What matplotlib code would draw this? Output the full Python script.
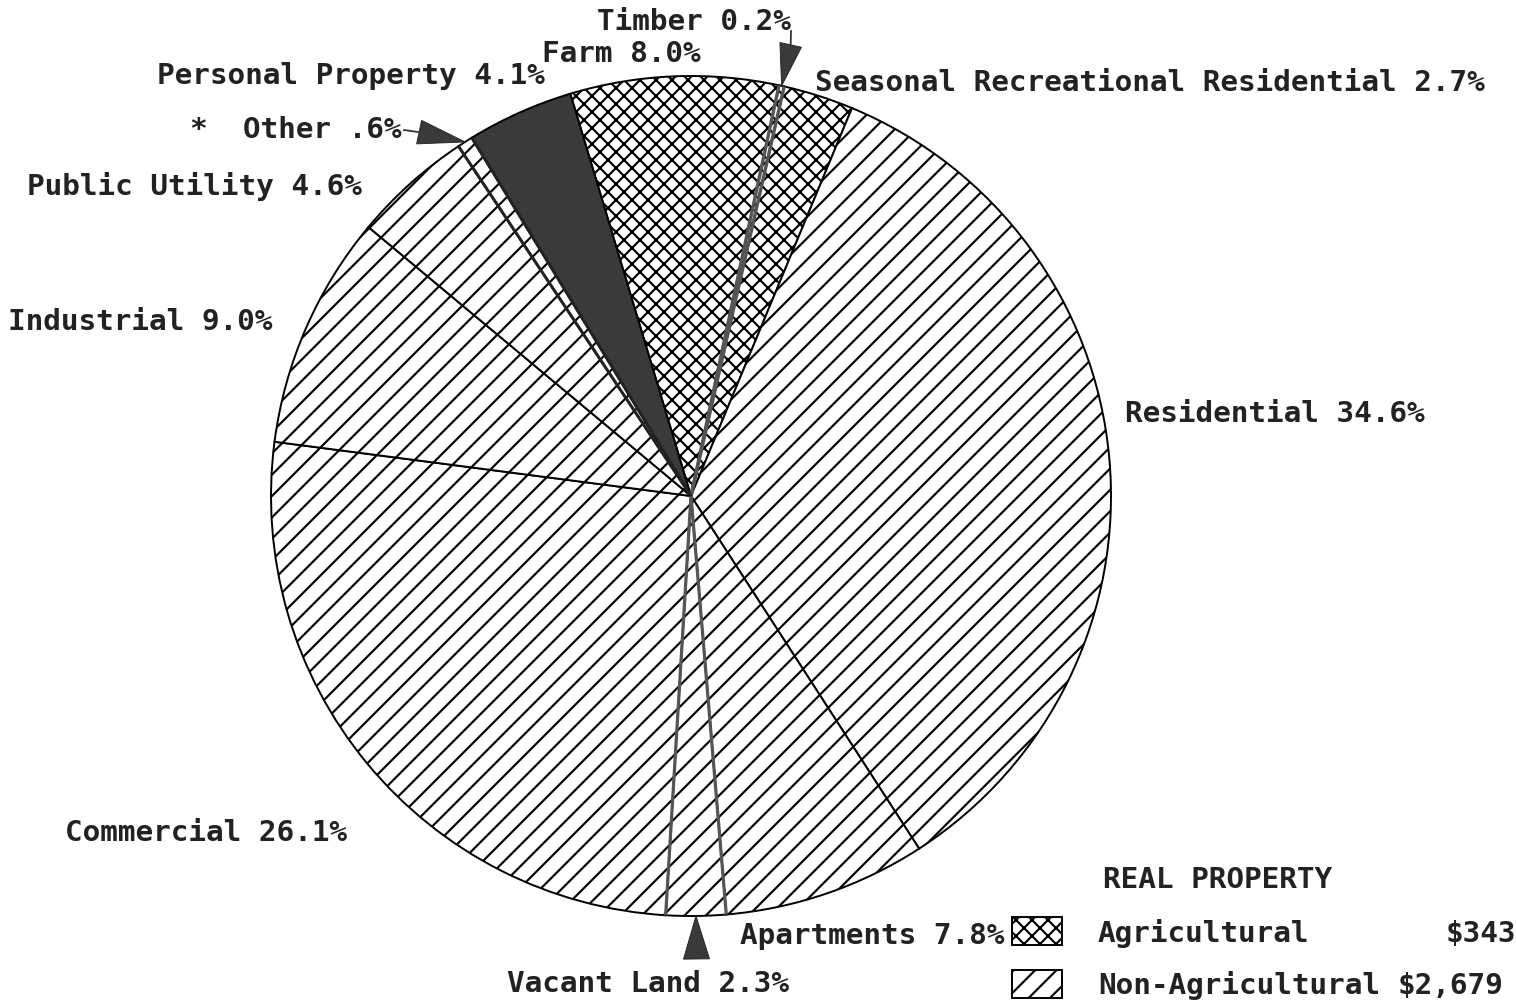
import numpy as np
import matplotlib
matplotlib.use("Agg")
import matplotlib.pyplot as plt
import matplotlib.hatch as mhatch
from matplotlib.patches import Polygon, Rectangle

# ---------------- data ----------------
categories = ["Farm", "Timber", "Seasonal Recreational Residential", "Residential",
              "Apartments", "Vacant Land", "Commercial", "Industrial",
              "Public Utility", "*  Other", "Personal Property"]
shares = [8.0, 0.2, 2.7, 34.6, 7.8, 2.3, 26.1, 9.0, 4.6, 0.6, 4.1]
pct_text = ["8.0%", "0.2%", "2.7%", "34.6%", "7.8%", "2.3%", "26.1%", "9.0%",
            "4.6%", ".6%", "4.1%"]
group = ["ag", "ag", "ag", "non", "non", "non", "non", "non", "non", "non", "pers"]
legend_title = "REAL PROPERTY"
legend_labels = ["Agricultural", "Non-Agricultural"]
legend_values = ["$343", "$2,679"]

# ---------------- hatch spacing (plotter look) ----------------
def _ne_init(self, hatch, density):
    self.num_lines = int(6 * hatch.count('/') + 8 * (hatch.count('x') + hatch.count('X')))
    self.num_vertices = (self.num_lines + 1) * 2 if self.num_lines else 0

def _se_init(self, hatch, density):
    self.num_lines = int(6 * hatch.count('\\') + 8 * (hatch.count('x') + hatch.count('X')))
    self.num_vertices = (self.num_lines + 1) * 2 if self.num_lines else 0

mhatch.NorthEastHatch.__init__ = _ne_init
mhatch.SouthEastHatch.__init__ = _se_init

DPI = 64
W, H = 1516, 1001
plt.rcParams["hatch.linewidth"] = 2.4
FONT = dict(family="DejaVu Sans Mono", fontweight="bold", fontsize=33, color="#222222")

fig = plt.figure(figsize=(W / DPI, H / DPI), dpi=DPI)
ax = fig.add_axes([0, 0, 1, 1])

def Y(py):
    return H - py

CX, CY, R = 691, Y(496), 420
START = 106.7

style = {
    "ag": dict(facecolor="white", hatch="x"),
    "non": dict(facecolor="white", hatch="/"),
    "pers": dict(facecolor="#3a3a3a", hatch=None),
}

wedges, _ = ax.pie(shares, startangle=START, counterclock=False, radius=R,
                   center=(CX, CY),
                   wedgeprops=dict(edgecolor="black", linewidth=2.2))
for w, g in zip(wedges, group):
    w.set_facecolor(style[g]["facecolor"])
    if style[g]["hatch"]:
        w.set_hatch(style[g]["hatch"])

# heavier radial edges on the narrow slices
edge_style = {"Timber": ("#555555", 3.8), "Vacant Land": ("#555555", 3.6),
              "*  Other": ("#222222", 3.4)}
for name, (col, lw) in edge_style.items():
    w = wedges[categories.index(name)]
    for th in (w.theta1, w.theta2):
        t = np.deg2rad(th)
        ax.plot([CX, CX + R * np.cos(t)], [CY, CY + R * np.sin(t)],
                color=col, lw=lw, solid_capstyle="butt", zorder=4)

# ---------------- labels ----------------
label_pos = {  # left x, baseline y (pixels)
    "Farm": (542, 62),
    "Timber": (597, 30),
    "Seasonal Recreational Residential": (815, 91),
    "Residential": (1125, 422),
    "Apartments": (740, 944),
    "Vacant Land": (507, 992),
    "Commercial": (65, 841),
    "Industrial": (8, 330),
    "Public Utility": (27, 195),
    "*  Other": (190, 138),
    "Personal Property": (157, 84),
}
for cat, pct in zip(categories, pct_text):
    x, y = label_pos[cat]
    ax.text(x, Y(y), f"{cat} {pct}", ha="left", va="baseline", **FONT)

# ---------------- pointer arrows ----------------
def mid_angle(name):
    w = wedges[categories.index(name)]
    return np.deg2rad((w.theta1 + w.theta2) / 2)

arrows = {  # name: (direction of base from tip in deg or None=radial, length, half width, stem end px)
    "Timber": (None, 42, 11, (791, 31)),
    "Vacant Land": (None, 43, 13, None),
    "*  Other": (168.0, 47, 12, (404, 130)),
}
for name, (dirdeg, L, hw, stem) in arrows.items():
    a = mid_angle(name)
    tip = np.array([CX + R * np.cos(a), CY + R * np.sin(a)])
    d = a if dirdeg is None else np.deg2rad(dirdeg)
    u = np.array([np.cos(d), np.sin(d)])
    n = np.array([-u[1], u[0]])
    base = tip + L * u
    ax.add_patch(Polygon([tip, base + hw * n, base - hw * n], closed=True,
                         facecolor="#3a3a3a", edgecolor="#222222", linewidth=1, zorder=5))
    if stem is not None:
        ax.plot([base[0], stem[0]], [base[1], Y(stem[1])], color="#333333", lw=2, zorder=5)

# ---------------- legend ----------------
ax.text(1103, Y(888), legend_title, ha="left", va="baseline", **FONT)
box_tops = [917, 970]
for g, top, lab, ybase in zip(["ag", "non"], box_tops, legend_labels, [942, 994]):
    ax.add_patch(Rectangle((1012, Y(top + 28)), 50, 28, facecolor="white",
                           edgecolor="black", linewidth=2.2, hatch=style[g]["hatch"]))
    ax.text(1098, Y(ybase), lab, ha="left", va="baseline", **FONT)
ax.text(1516, Y(942), legend_values[0], ha="right", va="baseline", **FONT)
ax.text(1398, Y(994), legend_values[1], ha="left", va="baseline", **FONT)

ax.set_xlim(0, W)
ax.set_ylim(0, H)
ax.set_aspect("equal")
ax.axis("off")
fig.savefig("out.png", dpi=DPI, facecolor="white")
